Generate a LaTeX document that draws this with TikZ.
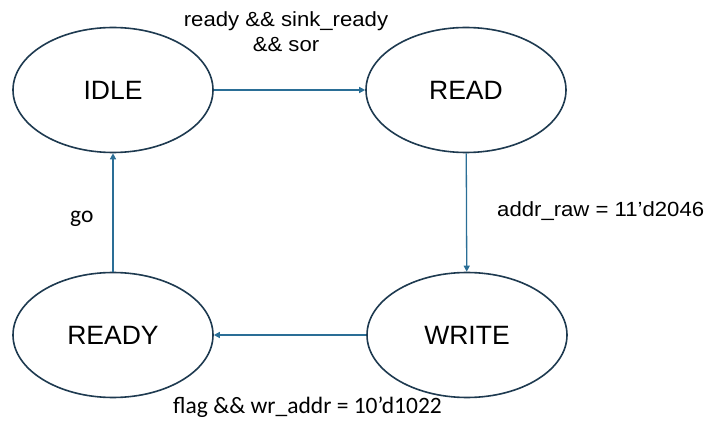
\documentclass[tikz,border=0pt]{standalone}
\usepackage{fontspec}
\setmainfont{Liberation Sans}
\newfontfamily\lblfont{Liberation Sans}[FakeStretch=1.08]
\newfontfamily\calfont{Carlito}
\usetikzlibrary{shapes.geometric,arrows.meta}
\definecolor{ellcol}{HTML}{1E3A50}
\definecolor{arrcol}{HTML}{2A6E96}
\tikzset{
  state/.style={ellipse, draw=ellcol, line width=1.6pt, minimum width=200pt, minimum height=125pt, inner sep=0pt,
    font=\fontsize{26.5}{30}\selectfont},
  arr/.style={draw=arrcol, line width=1.3pt, -{Triangle[length=6pt,width=6pt]}},
  lblA/.style={font=\lblfont\fontsize{20.5}{25}\selectfont, inner sep=0pt, align=center},
  lblB/.style={font=\calfont\fontsize{23.5}{28}\selectfont, inner sep=0pt}
}
\begin{document}
\begin{tikzpicture}[x=1pt,y=-1pt]
\useasboundingbox (0,0) rectangle (705,425);
\node[state] (idle)  at (113,90)  {IDLE};
\node[state] (read)  at (466,90)  {READ};
\node[state] (ready) at (113,335) {READY};
\node[state] (write) at (467,335) {WRITE};
\draw[arr] (idle) -- (read);
\draw[arr] (read) -- (write);
\draw[arr] (write) -- (ready);
\draw[arr] (ready) -- (idle);
\node[lblA, anchor=base] (l1) at (286,51.7) {ready \&\& sink\_ready\\\&\& sor};
\node[lblA, anchor=base west] (l2) at (497,216.7) {addr\_raw = 11’d2046};
\node[lblB, anchor=base west] (l3) at (173,413) {flag \&\& wr\_addr = 10’d1022};
\node[lblB, anchor=base west] (l4) at (70,223) {go};
\end{tikzpicture}
\end{document}
